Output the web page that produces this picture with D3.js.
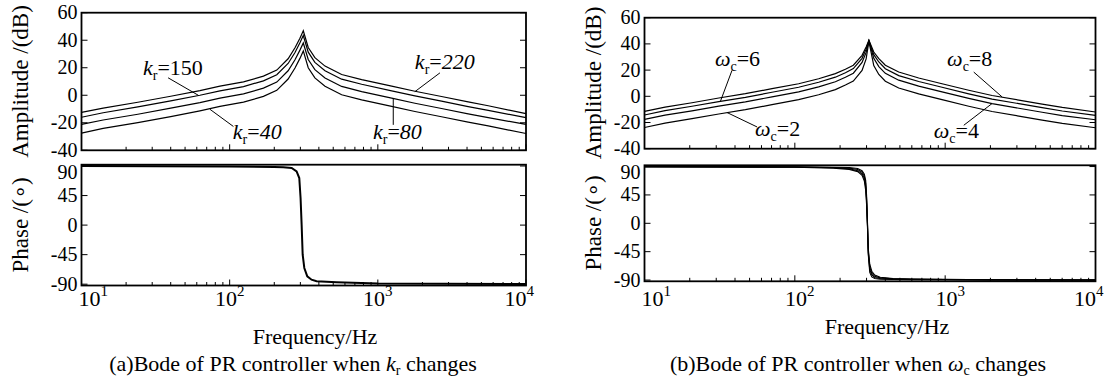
<!DOCTYPE html>
<html>
<head>
<meta charset="utf-8">
<script src="https://cdn.jsdelivr.net/npm/d3@7"></script>
<style>
  body { margin: 0; background: #fff; }
  text { font-family: "Liberation Serif", "Times New Roman", serif; fill: #000; }
</style>
</head>
<body>
<script>
// ---- data ----

// (a) kr changes : amplitude
var freqA = [10, 14, 24, 40, 63, 86, 124, 169, 208, 248, 276, 298, 314, 339, 376, 440, 570, 778, 1240, 1780, 2690, 4070, 5560, 10000]
var ampKr220 = [-12.5, -9.3, -5.1, -0.7, 3.4, 6.6, 9.7, 13.9, 18.3, 26.5, 34.5, 41.5, 46.9, 34.7, 27.3, 21.2, 15.1, 11.4, 6.6, 2.9, -0.9, -4.8, -7.6, -13.4]
var ampKr150 = [-16.0, -12.7, -8.5, -4.1, 0.0, 3.2, 6.3, 10.5, 14.9, 23.1, 31.1, 38.1, 43.4, 31.3, 23.9, 17.8, 11.7, 8.0, 3.2, -0.5, -4.3, -8.2, -11.0, -16.3]
var ampKr80 = [-21.2, -18.0, -13.8, -9.4, -5.3, -2.1, 1.0, 5.2, 9.6, 17.8, 25.8, 32.8, 38.0, 26.0, 18.6, 12.5, 6.4, 2.7, -2.1, -5.8, -9.6, -13.5, -16.3, -21.2]
var ampKr40 = [-27.5, -24.1, -19.9, -15.5, -11.3, -8.1, -5.0, -0.8, 3.6, 11.8, 19.8, 26.8, 32.2, 20.0, 12.6, 6.5, 0.4, -3.3, -8.1, -11.8, -15.6, -19.5, -22.3, -27.8]

// (a) phase, the four kr curves lie on top of each other
var phaseFreqA = [10, 100, 200, 230, 262, 283, 295, 301, 306, 311, 319, 334, 357, 386, 527, 1000, 10000]
var phaseA = [89.9, 89.3, 88.5, 88.0, 87.0, 81.9, 71.7, 41.3, 0.6, -45.1, -65.3, -78.0, -83.2, -85.6, -87.1, -89.0, -89.8]

// (b) wc changes : amplitude
var freqB = [10, 13.7, 20.7, 31.2, 46.9, 70.5, 106, 144, 186, 217, 245, 280, 298, 311, 335, 362, 400, 491, 667, 953, 1435, 2052, 3090, 4416, 6012, 10000]
var ampWc8 = [-11.5, -8.2, -4.9, -1.3, 2.0, 5.8, 9.6, 13.4, 17.3, 20.6, 23.7, 31.3, 37.6, 42.7, 33.8, 28.7, 23.7, 18.5, 14.0, 9.6, 4.6, 0.6, -2.9, -6.0, -8.5, -12.0]
var ampWc6 = [-14.3, -11.0, -7.6, -4.1, -0.8, 3.1, 6.9, 10.7, 14.6, 18.0, 21.2, 29.0, 36.0, 42.5, 31.8, 26.2, 21.1, 15.8, 11.3, 6.9, 1.9, -2.1, -5.6, -8.7, -11.2, -14.5]
var ampWc4 = [-17.6, -14.4, -11.1, -7.5, -4.3, -0.4, 3.4, 7.2, 11.1, 14.5, 17.6, 25.8, 33.5, 42.3, 29.0, 22.7, 17.5, 12.3, 7.8, 3.4, -1.6, -5.6, -9.1, -12.2, -14.7, -17.9]
var ampWc2 = [-23.8, -20.5, -17.1, -13.5, -10.2, -6.4, -2.6, 1.2, 5.1, 8.6, 11.6, 19.8, 28.5, 42.0, 23.5, 16.7, 11.5, 6.3, 1.8, -2.6, -7.6, -11.6, -15.1, -18.2, -20.7, -24.0]

// (b) phase
var phaseFreqB = [10, 100, 180, 230, 262, 280, 290, 296, 300, 304, 308, 315, 325, 340, 370, 450, 600, 1000, 2000, 10000]
var phaseWc8 = [89.8, 89.0, 87.5, 85.5, 82.0, 76.0, 67.0, 52.0, 30.0, -5.0, -40.0, -65.0, -76.0, -82.0, -85.5, -87.5, -88.3, -89.0, -89.5, -89.9]
var phaseWc6 = [89.8, 89.2, 88.0, 86.5, 83.5, 78.5, 71.0, 58.0, 36.0, 0.0, -44.0, -69.0, -79.0, -84.0, -86.5, -88.0, -88.7, -89.2, -89.6, -89.9]
var phaseWc4 = [89.9, 89.4, 88.5, 87.5, 85.3, 81.0, 74.5, 63.0, 40.5, 3.0, -47.0, -73.5, -82.0, -86.0, -87.5, -88.5, -89.0, -89.4, -89.7, -90.0]
var phaseWc2 = [89.9, 89.6, 89.0, 88.5, 87.0, 83.5, 78.0, 68.0, 45.0, 5.0, -50.0, -78.0, -85.0, -87.5, -88.5, -89.0, -89.3, -89.6, -89.8, -90.0]

// ticks
var ampTicks = [-40, -20, 0, 20, 40, 60]
var phaseTicks = [-90, -45, 0, 45, 90]
var decadeExps = [1, 2, 3, 4]
var minorMults = [2, 3, 4, 5, 6, 7, 8, 9]


// ---- drawing ----
var svg = d3.select("body").append("svg")
  .attr("width", 1108)
  .attr("height", 387)

var line = function (x, y) {
  return d3.line().x(function (d) { return x(d[0]) }).y(function (d) { return y(d[1]) })
}

// box with inward ticks, y ticks both sides, x ticks on the bottom
function panel(x, y, yTicks, pushTop) {
  var g = svg.append("g")
  var x0 = x.range()[0], x1 = x.range()[1]
  var y0 = y.range()[0], y1 = y.range()[1]
  var last = yTicks[yTicks.length - 1]

  yTicks.forEach(function (t) {
    g.append("line").attr("x1", x0).attr("x2", x0 + 6).attr("y1", y(t)).attr("y2", y(t))
    g.append("line").attr("x1", x1).attr("x2", x1 - 6).attr("y1", y(t)).attr("y2", y(t))
    // phase: top label sits a bit lower, inside the box height
    var ly = (pushTop && t === last) ? y1 + 14 : y(t) + 6.5
    g.append("text")
      .attr("x", x0 - 4).attr("y", ly)
      .attr("text-anchor", "end")
      .style("font-size", "20px")
      .text(t)
  })

  decadeExps.forEach(function (e) {
    var f = Math.pow(10, e)
    g.append("line").attr("x1", x(f)).attr("x2", x(f)).attr("y1", y0).attr("y2", y0 - 6)
    if (e < 4) {
      minorMults.forEach(function (m) {
        g.append("line").attr("x1", x(m * f)).attr("x2", x(m * f)).attr("y1", y0).attr("y2", y0 - 3.5)
      })
    }
  })
  g.selectAll("line").attr("stroke", "#000").attr("stroke-width", 1)

  g.append("rect")
    .attr("x", x0).attr("y", y1)
    .attr("width", x1 - x0).attr("height", y0 - y1)
    .attr("fill", "none").attr("stroke", "#000").attr("stroke-width", 1.8)
  return g
}

function yLabel(txt, cx, cy) {
  svg.append("text")
    .attr("transform", "translate(" + cx + "," + cy + ") rotate(-90)")
    .attr("text-anchor", "middle")
    .style("font-size", "23px")
    .text(txt)
}

function decadeLabels(x, baseY, shift) {
  decadeExps.forEach(function (e, i) {
    var anchor = i === 0 ? "start" : (i === decadeExps.length - 1 ? "end" : "middle")
    var px = x(Math.pow(10, e)) + (i === 0 ? -3 : (i === decadeExps.length - 1 ? 8 : shift))
    var t = svg.append("text")
      .attr("x", px).attr("y", baseY)
      .attr("text-anchor", anchor)
      .style("font-size", "22px")
    t.append("tspan").text("10")
    t.append("tspan").attr("dy", -10).style("font-size", "15px").text(e)
  })
}

// label like k_r=150 or w_c=6, placed at a data point, with a leader line
function tag(x, y, sym, sub, val, italicVal, at, from, to) {
  var t = svg.append("text")
    .attr("x", x(at[0])).attr("y", y(at[1]))
    .style("font-size", "22px")
  t.append("tspan").style("font-style", "italic").text(sym)
  t.append("tspan").attr("dy", 5).style("font-size", "14px").text(sub)
  t.append("tspan").attr("dy", -5).text("=")
  t.append("tspan").style("font-style", italicVal ? "italic" : "normal").text(val)
  svg.append("line")
    .attr("x1", x(from[0])).attr("y1", y(from[1]))
    .attr("x2", x(to[0])).attr("y2", y(to[1]))
    .attr("stroke", "#000").attr("stroke-width", 1)
}

function curves(x, y, freq, list, width) {
  list.forEach(function (vals) {
    svg.append("path")
      .datum(d3.zip(freq, vals))
      .attr("d", line(x, y))
      .attr("fill", "none")
      .attr("stroke", "#000")
      .attr("stroke-width", width)
  })
}

// ===== (a) =====
var xA = d3.scaleLog().domain([10, 10000]).range([81.5, 526])
var yAmpA = d3.scaleLinear().domain([-40, 60]).range([150.3, 12.7])
var yPhA = d3.scaleLinear().domain([-92, 92]).range([285.5, 164.7])

curves(xA, yAmpA, freqA, [ampKr220, ampKr150, ampKr80, ampKr40], 1.2)
curves(xA, yPhA, phaseFreqA, [phaseA], 2)
panel(xA, yAmpA, ampTicks, false)
panel(xA, yPhA, phaseTicks, true)

tag(xA, yAmpA, "k", "r", "150", false, [26, 14.9], [38.4, 12.7], [61.4, 0])
tag(xA, yAmpA, "k", "r", "40", true, [105, -32], [73.6, -10.2], [106, -22.7])
tag(xA, yAmpA, "k", "r", "220", true, [1778, 19.3], [2626, 16.3], [1778, 2.6])
tag(xA, yAmpA, "k", "r", "80", true, [927, -32], [1271, -2.2], [1271, -21.5])

yLabel("Amplitude /(dB)", 28, 81.5)
yLabel("Phase /(\u2218)", 28, 225)
decadeLabels(xA, 306, 0)

svg.append("text").attr("x", 315).attr("y", 344).attr("text-anchor", "middle")
  .style("font-size", "22px").text("Frequency/Hz")

var capA = svg.append("text").attr("x", 293).attr("y", 371).attr("text-anchor", "middle")
  .style("font-size", "22px")
capA.append("tspan").text("(a)Bode of PR controller when ")
capA.append("tspan").style("font-style", "italic").text("k")
capA.append("tspan").attr("dy", 4).style("font-size", "14px").text("r")
capA.append("tspan").attr("dy", -4).text(" changes")

// ===== (b) =====
var xB = d3.scaleLog().domain([10, 10000]).range([644.5, 1095.5])
var yAmpB = d3.scaleLinear().domain([-40, 60]).range([148.7, 17.7])
var yPhB = d3.scaleLinear().domain([-92, 92]).range([281.3, 165.3])

curves(xB, yAmpB, freqB, [ampWc8, ampWc6, ampWc4, ampWc2], 1.2)
curves(xB, yPhB, phaseFreqB, [phaseWc8, phaseWc6, phaseWc4, phaseWc2], 1.1)
panel(xB, yAmpB, ampTicks, false)
panel(xB, yPhB, phaseTicks, true)

tag(xB, yAmpB, "\u03C9", "c", "6", false, [29.4, 23.1], [38.2, 19.8], [31.9, -4.2])
tag(xB, yAmpB, "\u03C9", "c", "2", false, [54.3, -30.3], [35.4, -12.4], [56.1, -23.4])
tag(xB, yAmpB, "\u03C9", "c", "8", false, [1030, 23.1], [1549, 18.5], [2393, -0.5])
tag(xB, yAmpB, "\u03C9", "c", "4", false, [839, -31.8], [1330, -22.1], [2052, -5.5])

yLabel("Amplitude /(dB)", 601, 83)
yLabel("Phase /(\u2218)", 601, 223)
decadeLabels(xB, 306, 5)

svg.append("text").attr("x", 887).attr("y", 334).attr("text-anchor", "middle")
  .style("font-size", "22px").text("Frequency/Hz")

var capB = svg.append("text").attr("x", 858).attr("y", 371).attr("text-anchor", "middle")
  .style("font-size", "22px")
capB.append("tspan").text("(b)Bode of PR controller when  ")
capB.append("tspan").style("font-style", "italic").text("\u03C9")
capB.append("tspan").attr("dy", 4).style("font-size", "14px").text("c")
capB.append("tspan").attr("dy", -4).text(" changes")
</script>
</body>
</html>
